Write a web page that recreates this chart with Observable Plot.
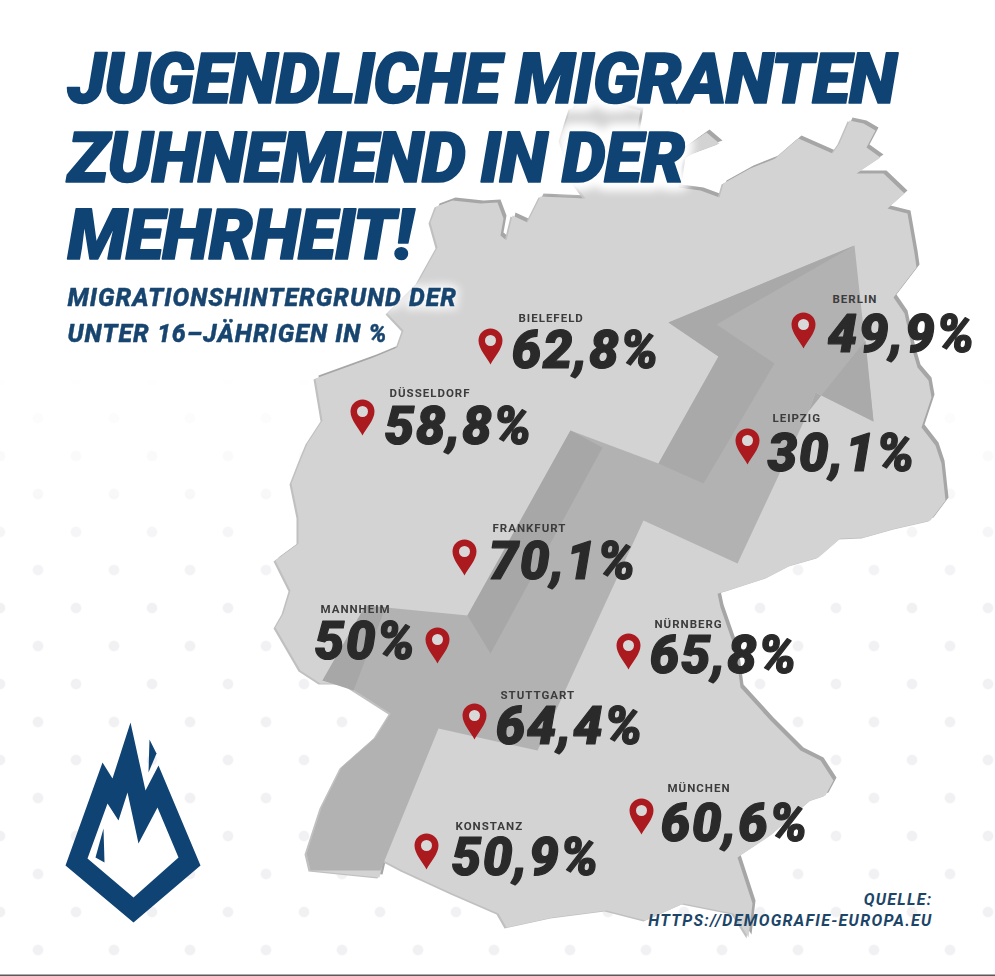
<!DOCTYPE html>
<html lang="de">
<head>
<meta charset="utf-8">
<script src="https://cdn.jsdelivr.net/npm/d3@7"></script>
<script src="https://cdn.jsdelivr.net/npm/@observablehq/plot@0.6"></script>
<style>
html,body{margin:0;padding:0;background:#fff;width:995px;height:976px;overflow:hidden}
#dots{position:absolute;left:0;top:0;width:995px;height:976px;
background-image:radial-gradient(circle,#f1f1f3 4.5px,transparent 6px),radial-gradient(circle,#f1f1f3 4.5px,transparent 6px);
background-size:76px 76px;background-position:0 0,38px 38px;
-webkit-mask-image:linear-gradient(to bottom,transparent 38%,#000 62%);mask-image:linear-gradient(to bottom,transparent 38%,#000 62%)}
#chart{position:absolute;left:0;top:0}
.ttl text,.ttlhalo text{letter-spacing:-1.35px}
.ttlhalo,.subhalo{filter:blur(4px)}
.sub text,.subhalo text{letter-spacing:1px}
.nm text{letter-spacing:1px}
.val text{letter-spacing:1.4px}
.src text{letter-spacing:1.3px}
</style>
</head>
<body>
<div id="dots"></div>
<div id="chart"></div>
<script>
// City values (% migration background, under 16)
const cities = ["BIELEFELD","BERLIN","LEIPZIG","DÜSSELDORF","FRANKFURT","MANNHEIM","NÜRNBERG","STUTTGART","MÜNCHEN","KONSTANZ"];
const shares = [62.8,49.9,30.1,58.8,70.1,50,65.8,64.4,60.6,50.9];
// Location of each pin and label on the map, in picture units
const pinX = [490,803,747,362,464,437,628,474,641,426];
const pinY = [340,324,440,411,551,639,645,715,810,845];
const valueX = [511,827,767,384,488,314,649,495,660,451];
const valueY = [367,351,470,443,578,658,672,743,840,874];
const nameX = [518,832,772,389,492,320,654,500,667,455];
const nameY = [321,302,421,396,531,612,627,698,791,829];

const titleLines = ["JUGENDLICHE MIGRANTEN","ZUHNEMEND IN DER","MEHRHEIT!"];
const titleY = [102,181,258];
const subtitleLines = ["MIGRATIONSHINTERGRUND DER","UNTER 16–JÄHRIGEN IN %"];
const subtitleY = [305,341];
const sourceLines = ["QUELLE:","HTTPS://DEMOGRAFIE-EUROPA.EU"];
const sourceY = [904,925];

const germany = [[430,222],[436,206],[452,200],[480,203],[497,202],[503,218],[500,235],[506,240],[512,215],[527,222],[540,196],[585,198],[575,185],[560,140],[570,108],[600,100],[640,110],[636,135],[650,155],[678,152],[706,132],[719,143],[692,153],[682,160],[678,187],[700,190],[719,197],[723,183],[750,168],[775,158],[798,138],[832,153],[839,143],[849,120],[863,123],[875,130],[866,147],[880,157],[856,173],[883,173],[904,193],[887,208],[907,213],[914,253],[916,267],[893,297],[904,313],[912,350],[917,367],[928,380],[931,397],[921,427],[935,445],[941,463],[945,500],[930,520],[895,528],[863,537],[840,538],[818,557],[790,565],[767,577],[727,590],[717,593],[720,607],[735,650],[740,687],[770,720],[800,750],[820,760],[833,780],[825,795],[810,800],[770,835],[737,857],[752,903],[748,937],[733,913],[683,903],[645,920],[606,910],[552,917],[506,927],[498,913],[452,893],[402,870],[383,860],[379,877],[310,870],[306,853],[321,807],[341,767],[375,737],[390,713],[343,683],[320,683],[300,670],[275,627],[283,613],[290,590],[275,560],[298,543],[298,517],[291,483],[300,460],[307,443],[322,420],[315,378],[373,357],[397,347],[403,330],[387,313],[417,283],[437,247]];

const arrow = [[854,245],[873,421],[815,392],[808,411],[737,563],[643,520],[537,750],[438,728],[380,870],[310,870],[306,853],[321,807],[341,767],[375,737],[390,713],[343,683],[322,680],[365,605],[467,615],[570,430],[658,463],[718,356],[668,322]];
const foldTop = [[668,322],[854,245],[716,324],[774,363],[703,483],[658,463],[718,356]];
const foldWing = [[815,392],[873,421],[865,340],[808,411]];
const foldMiddle = [[570,430],[602,447],[490,653],[467,615]];
const foldLower = [[322,680],[365,605],[385,607],[353,690]];

const logoOuter = [[133,922],[65,865],[102,762],[112,778],[130,722],[145,790],[158,765],[200,865]];
const logoInner = [[133,897],[178,857],[157,807],[138,843],[127,792],[118,820],[107,803],[87,858]];
const logoLeft = [[103,828],[95,857],[104,862]];
const logoTop = [[149,739],[156,753],[148,772]];

const fmt = v => String(v).replace(".", ",") + "%";
const idx = d3.range(cities.length);
const pin = {draw(c, size){
  const r = Math.sqrt(size / Math.PI);
  c.moveTo(0, r * 2);
  c.bezierCurveTo(-r*0.3, r*1.4, -r, r*0.7, -r, 0);
  c.arc(0, 0, r, Math.PI, 0);
  c.bezierCurveTo(r, r*0.7, r*0.3, r*1.4, 0, r*2);
  c.closePath();
}};
const poly = (pts, fill, opts={}) => Plot.line(pts, {x:d=>d[0], y:d=>d[1], fill, stroke:null, ...opts});
const heavy = "Roboto, 'Open Sans', sans-serif";
const titleText = {x:()=>67,y:(d,i)=>titleY[i],text:d=>d,textAnchor:"start",lineAnchor:"bottom",fontFamily:heavy,fontSize:70,fontWeight:900,fontStyle:"italic"};
const subText = {x:()=>67,y:(d,i)=>subtitleY[i],text:d=>d,textAnchor:"start",lineAnchor:"bottom",fontFamily:heavy,fontSize:25,fontWeight:800,fontStyle:"italic"};

const chart = Plot.plot({
  width:995, height:976,
  margin:0,
  x:{domain:[0,995], range:[0,995], axis:null},
  y:{domain:[0,976], range:[0,976], axis:null},
  style:{background:"transparent"},
  marks:[
    poly(germany,"#a6a6a6",{dx:3,dy:-3}),
    poly(germany,"#c0c0c0",{dx:-2,dy:1}),
    poly(germany,"#d3d3d3"),
    poly(arrow,"#b2b2b2"),
    poly(foldTop,"#a9a9a9"),
    poly(foldWing,"#aaaaaa"),
    poly(foldMiddle,"#a7a7a7"),
    poly(foldLower,"#a7a7a7"),
    poly(logoOuter,"#0f4374"),
    poly(logoInner,"#ffffff"),
    poly(logoLeft,"#0f4374"),
    poly(logoTop,"#0f4374"),
    Plot.text(titleLines,{...titleText,fill:"#fff",stroke:"#fff",strokeWidth:18,strokeLinejoin:"round",className:"ttlhalo"}),
    Plot.text(subtitleLines,{...subText,fill:"#fff",stroke:"#fff",strokeWidth:8,strokeOpacity:.7,strokeLinejoin:"round",className:"subhalo"}),
    Plot.text(titleLines,{...titleText,fill:"#0f4374",stroke:"#0f4374",strokeWidth:1.6,strokeLinejoin:"round",className:"ttl"}),
    Plot.text(subtitleLines,{...subText,fill:"#17456f",stroke:"#17456f",strokeWidth:.4,className:"sub"}),
    Plot.dot(idx,{x:i=>pinX[i],y:i=>pinY[i],r:12,symbol:pin,fill:"#ab1a1f",stroke:null}),
    Plot.dot(idx,{x:i=>pinX[i],y:i=>pinY[i],r:5.5,fill:"#d8d8d8",stroke:null}),
    Plot.text(idx,{x:i=>nameX[i],y:i=>nameY[i],text:i=>cities[i],textAnchor:"start",lineAnchor:"bottom",
      fontFamily:heavy,fontSize:11.5,fontWeight:700,fill:"#3c3c3c",className:"nm"}),
    Plot.text(idx,{x:i=>valueX[i],y:i=>valueY[i],text:i=>fmt(shares[i]),textAnchor:"start",lineAnchor:"bottom",
      fontFamily:heavy,fontSize:53,fontWeight:900,fontStyle:"italic",fill:"#2a2a2a",stroke:"#2a2a2a",strokeWidth:1.2,strokeLinejoin:"round",className:"val"}),
    Plot.text(sourceLines,{x:()=>932,y:(d,i)=>sourceY[i],text:d=>d,textAnchor:"end",lineAnchor:"bottom",
      fontFamily:heavy,fontSize:16,fontWeight:700,fontStyle:"italic",fill:"#1c4568",className:"src"}),
    Plot.ruleY([975],{stroke:"#5a5a5a",strokeWidth:2})
  ]
});
document.getElementById("chart").appendChild(chart);
</script>
</body>
</html>
